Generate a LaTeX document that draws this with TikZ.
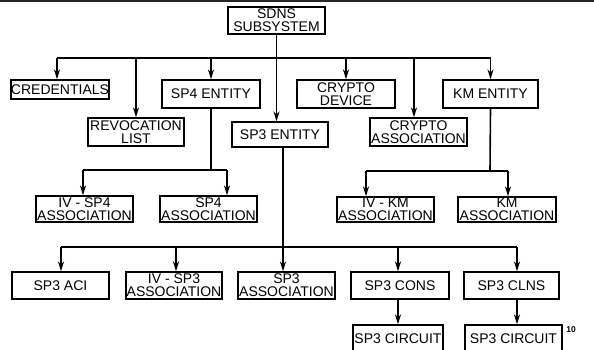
\documentclass[tikz,border=0pt]{standalone}
\usepackage{fontspec}
\setmainfont{Liberation Sans}
\usetikzlibrary{arrows.meta}
\begin{document}
\begin{tikzpicture}[x=1pt,y=-1pt,
  box/.style={draw, line width=1.3pt, inner sep=0pt, align=center,
    font=\fontsize{14}{13}\selectfont, minimum height=27pt},
  arr/.style={line width=1.6pt, -{Stealth[length=10pt,width=6pt]}},
  ln/.style={line width=1.6pt}]
\useasboundingbox (0,0) rectangle (594,350);
% scan edge line at the top
\draw[line width=1.6pt, black!85] (0,1) -- (594,1);

% level 0
\node[box, minimum width=97pt, minimum height=27pt] (sdns) at (276.5,20.5) {SDNS\\SUBSYSTEM};

% level 1
\node[box, minimum width=96pt, minimum height=19pt] (cred) at (60,89.5) {CREDENTIALS};
\node[box, minimum width=96pt, minimum height=28pt] (rev) at (136,132) {REVOCATION\\LIST};
\node[box, minimum width=98pt, minimum height=28pt] (sp4) at (211,94) {SP4 ENTITY};
\node[box, minimum width=96pt, minimum height=25pt] (sp3) at (280,134.5) {SP3 ENTITY};
\node[box, minimum width=98pt, minimum height=28pt] (cdev) at (346,94) {CRYPTO\\DEVICE};
\node[box, minimum width=97pt, minimum height=28pt] (cass) at (418.5,132) {CRYPTO\\ASSOCIATION};
\node[box, minimum width=95pt, minimum height=28pt] (km) at (490.5,94) {KM ENTITY};

% level 2
\node[box, minimum width=97pt, minimum height=26pt] (ivsp4) at (84.5,209) {IV - SP4\\ASSOCIATION};
\node[box, minimum width=97pt, minimum height=26pt] (sp4a) at (208.5,209) {SP4\\ASSOCIATION};
\node[box, minimum width=97pt, minimum height=25pt] (ivkm) at (385.5,209.5) {IV - KM\\ASSOCIATION};
\node[box, minimum width=98pt, minimum height=25pt] (kma) at (507,209.5) {KM\\ASSOCIATION};

% level 3
\node[box, minimum width=97pt] (aci) at (60.5,285.5) {SP3 ACI};
\node[box, minimum width=96pt] (ivsp3) at (174,285.5) {IV - SP3\\ASSOCIATION};
\node[box, minimum width=97pt] (sp3a) at (286.5,285.5) {SP3\\ASSOCIATION};
\node[box, minimum width=98pt] (cons) at (400,285.5) {SP3 CONS};
\node[box, minimum width=95pt] (clns) at (511.5,285.5) {SP3 CLNS};

% level 4 (cut by the lower edge)
\node[box, minimum width=90pt, minimum height=28pt] (circ1) at (398,339) {SP3 CIRCUIT};
\node[box, minimum width=97pt, minimum height=28pt] (circ2) at (513.5,339) {SP3 CIRCUIT};

\node[font=\fontsize{8.5}{9}\selectfont\bfseries, inner sep=0pt] (pg) at (571,330) {10};

% bus points
\coordinate (bus1) at (0,58);
\coordinate (b4) at (211,170);
\coordinate (b4l) at (83,170);
\coordinate (b4r) at (227,170);
\coordinate (bk) at (490,171);
\coordinate (bkl) at (366,171);
\coordinate (bkr) at (508,171);
\coordinate (b3) at (283,247);
\coordinate (b3a) at (61,247);
\coordinate (b3b) at (176,247);
\coordinate (b3d) at (398,247);
\coordinate (b3e) at (517,247);

% top level connectors
\draw[arr] (sdns.south) -- (sdns.south |- sp3.north);
\draw[ln] ([xshift=-3pt]cred.north |- bus1) -- (km.north |- bus1);
\draw[arr] ([xshift=-3pt]cred.north |- bus1) -- ([xshift=-3pt]cred.north);
\draw[arr] (rev.north |- bus1) -- (rev.north);
\draw[arr] (sp4.north |- bus1) -- (sp4.north);
\draw[arr] (cdev.north |- bus1) -- (cdev.north);
\draw[arr] ([xshift=-4.5pt]cass.north |- bus1) -- ([xshift=-4.5pt]cass.north);
\draw[arr] (km.north |- bus1) -- (km.north);

% SP4 entity
\draw[ln] (sp4.south) -- (b4);
\draw[ln] (b4l) -- (b4r);
\draw[arr] (b4l) -- (b4l |- ivsp4.north);
\draw[arr] (b4r) -- (b4r |- sp4a.north);

% KM entity
\draw[ln] (km.south) -- (bk);
\draw[ln] (bkl) -- (bkr);
\draw[arr] (bkl) -- (bkl |- ivkm.north);
\draw[arr] (bkr) -- (bkr |- kma.north);

% SP3 entity
\draw[ln] (b3 |- sp3.south) -- (b3);
\draw[ln] (b3a) -- (b3e);
\draw[arr] (b3a) -- (b3a |- aci.north);
\draw[arr] (b3b) -- (b3b |- ivsp3.north);
\draw[arr] (b3) -- (b3 |- sp3a.north);
\draw[arr] (b3d) -- (b3d |- cons.north);
\draw[arr] (b3e) -- (b3e |- clns.north);
\draw[arr] (b3d |- cons.south) -- (b3d |- circ1.north);
\draw[arr] (b3e |- clns.south) -- (b3e |- circ2.north);
\end{tikzpicture}
\end{document}
